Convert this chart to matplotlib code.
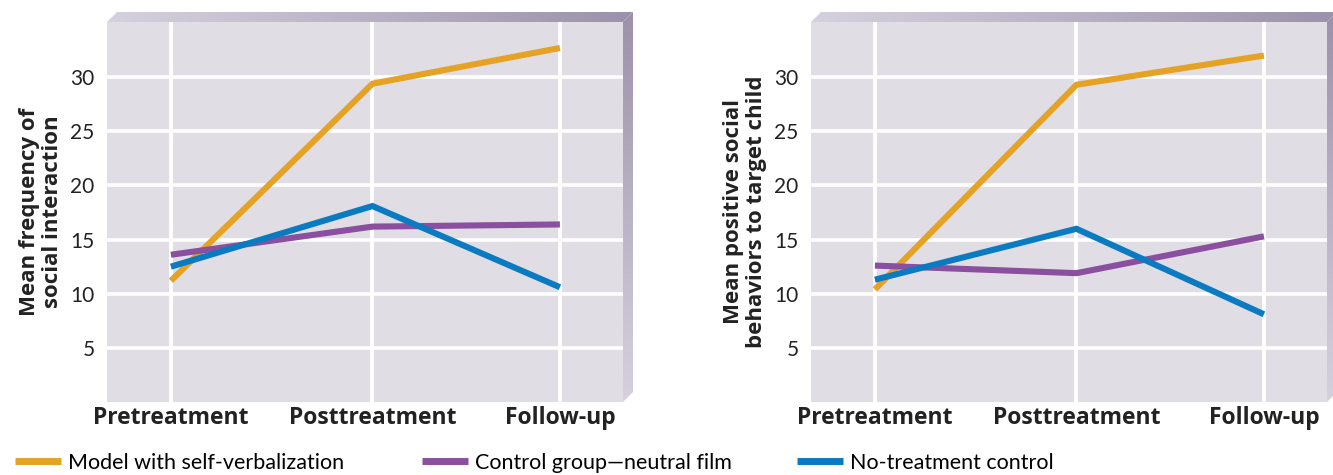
import numpy as np
import matplotlib
matplotlib.use("Agg")
import matplotlib.pyplot as plt
from matplotlib.patches import Polygon
from matplotlib.lines import Line2D

plt.rcParams['font.family'] = ['Lato', 'DejaVu Sans']

# ---- data ----
categories = ["Pretreatment", "Posttreatment", "Follow-up"]
series_names = ["Model with self-verbalization", "Control group\u2014neutral film", "No-treatment control"]

left_model = [11.2, 29.4, 32.7]
left_control = [13.6, 16.2, 16.4]
left_notreat = [12.5, 18.1, 10.6]

right_model = [10.4, 29.3, 32.0]
right_control = [12.6, 11.9, 15.3]
right_notreat = [11.3, 16.0, 8.1]

yticks = [5, 10, 15, 20, 25, 30]
left_ylabel = "Mean frequency of\nsocial interaction"
right_ylabel = "Mean positive social\nbehaviors to target child"

# ---- style ----
colors = ["#E5A326", "#8A4F9E", "#0A7BC1"]
face = "#E0DDE5"
x_pos = [0, 1, 1.93]
bold_font = ['Open Sans', 'DejaVu Sans']

W, H = 1333, 475
fig = plt.figure(figsize=(W / 100, H / 100), dpi=100)
fig.patch.set_facecolor("white")

# background axes in pixel coordinates for bevels
bg = fig.add_axes([0, 0, 1, 1])
bg.set_xlim(0, W)
bg.set_ylim(H, 0)
bg.axis("off")

light = np.array([0.84, 0.82, 0.87])
dark = np.array([0.61, 0.57, 0.67])
t = np.linspace(0, 1, 256)
grad = light[None, :] * (1 - t[:, None]) + dark[None, :] * t[:, None]

def bevel(x0, x1, top, bottom, d=10):
    # top band: gradient left (light) -> right (dark)
    poly = Polygon([(x0, top), (x0 + d, top - d), (x1 + d, top - d), (x1, top)],
                   closed=True, transform=bg.transData, facecolor="none", edgecolor="none")
    bg.add_patch(poly)
    im = bg.imshow(grad[None, :, :], extent=(x0, x1 + d, top, top - d),
                   aspect="auto", interpolation="bilinear")
    im.set_clip_path(poly)
    # right band: gradient top (dark) -> bottom (light)
    poly2 = Polygon([(x1, top), (x1 + d, top - d), (x1 + d, bottom - d), (x1, bottom)],
                    closed=True, transform=bg.transData, facecolor="none", edgecolor="none")
    bg.add_patch(poly2)
    im2 = bg.imshow(grad[::-1][:, None, :], extent=(x1, x1 + d, bottom, top - d),
                    aspect="auto", interpolation="bilinear")
    im2.set_clip_path(poly2)

ax_top, ax_bot = 22, 402
panels = [(107, [left_model, left_control, left_notreat], left_ylabel),
          (811, [right_model, right_control, right_notreat], right_ylabel)]

for x0, series, ylab in panels:
    x1 = x0 + 516
    bevel(x0, x1, ax_top, ax_bot)
    bg.set_xlim(0, W)
    bg.set_ylim(H, 0)
    ax = fig.add_axes([x0 / W, (H - ax_bot) / H, 516 / W, (ax_bot - ax_top) / H])
    ax.set_facecolor(face)
    for s in ax.spines.values():
        s.set_visible(False)
    ax.set_xlim(-0.317, 2.243)
    ax.set_ylim(0, 35.1)
    for xp in x_pos:
        ax.axvline(xp, color="white", lw=2.8, zorder=1)
    for yt in yticks:
        ax.axhline(yt, color="white", lw=2.6, zorder=1)
    for vals, c in zip(series, colors):
        ax.plot(x_pos, vals, color=c, lw=4.4, solid_capstyle="butt",
                solid_joinstyle="miter", zorder=3)
    ax.set_yticks(yticks)
    ax.set_yticklabels([str(v) for v in yticks], fontsize=15, color="#222222")
    ax.set_xticks(x_pos)
    ax.set_xticklabels(categories, fontsize=16.5, fontweight="bold", color="#222222",
                       family=bold_font)
    ax.tick_params(axis="both", length=0)
    ax.tick_params(axis="y", pad=9)
    ax.tick_params(axis="x", pad=3)
    ax.set_ylabel(ylab, fontsize=16, fontweight="bold", color="#222222",
                  family=bold_font, linespacing=1.15, labelpad=5)

# legend
legend_x = [15 / W, 422 / W, 797 / W]
for name, c, lx in zip(series_names, colors, legend_x):
    h = Line2D([], [], color=c, lw=5, solid_capstyle="butt")
    fig.legend([h], [name], loc="center left", bbox_to_anchor=(lx, (H - 463) / H),
               frameon=False, fontsize=15.5, handlelength=2.15, handletextpad=0.33,
               borderaxespad=0, borderpad=0)

fig.savefig("out.png", dpi=100)
